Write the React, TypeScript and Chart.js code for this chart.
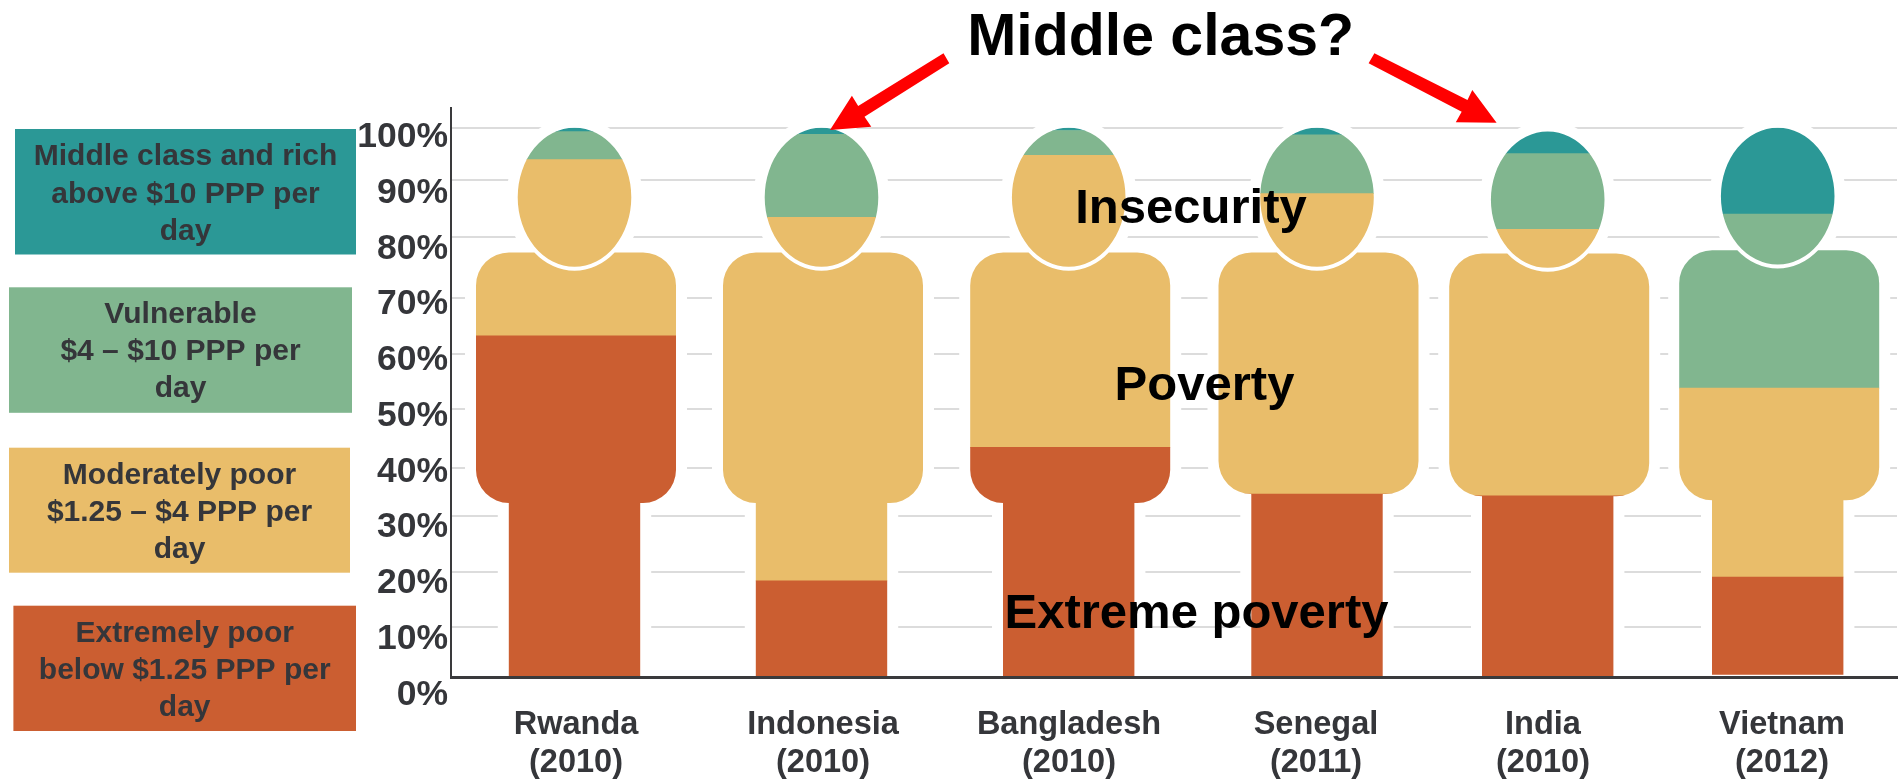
import React, { useEffect, useRef } from "react";
import { Chart, registerables } from "chart.js";

Chart.register(...registerables);

// ---------- data ----------
const countries = ["Rwanda", "Indonesia", "Bangladesh", "Senegal", "India", "Vietnam"];
const years = ["(2010)", "(2010)", "(2010)", "(2011)", "(2010)", "(2012)"];
const extremelyPoor = [62.1, 17.5, 41.8, 33.3, 33.0, 18.2];
const moderatelyPoor = [32.1, 66.2, 53.2, 54.7, 48.5, 34.4];
const vulnerable = [5.1, 15.1, 4.5, 10.7, 13.8, 31.7];
const middleClass = [0.7, 1.2, 0.5, 1.3, 4.7, 15.7];
const yTickValues = [0, 10, 20, 30, 40, 50, 60, 70, 80, 90, 100];
const gridLevels = [9.1, 19.2, 29.3, 38, 48.8, 58.8, 69, 80.2, 90.4, 100];

const legendEntries = [
  ["Middle class and rich", "above $10 PPP per", "day"],
  ["Vulnerable", "$4 \u2013 $10 PPP per", "day"],
  ["Moderately poor", "$1.25 \u2013 $4 PPP per", "day"],
  ["Extremely poor", "below $1.25 PPP per", "day"],
];

// ---------- styles & layout ----------
const TEAL = "#2b9896";
const GREEN = "#81b68f";
const YELLOW = "#e9bd6a";
const ORANGE = "#cb5e31";
const INK = "#35363a";
const FONT = "'Liberation Sans', Arial, sans-serif";

const barCenters = [123.5, 370.5, 617.7, 866, 1096.7, 1326.7];
const labelCenters = [125, 372, 618, 865, 1092, 1331];

// person silhouettes, heights in axis percent
const heads = [
  [100, 74.7],
  [100, 74.7],
  [100, 74.7],
  [100, 74.7],
  [99.3, 74.5],
  [100, 75.1],
];
const torsos = [
  [77.3, 31.7],
  [77.3, 31.7],
  [77.3, 31.7],
  [77.3, 33.3],
  [77.1, 32.9],
  [77.7, 32.2],
];
const feet = [0, 0, 0, 0, 0, 0.4];
const BODY_HALF = 100;
const BODY_SHIFT = 1.5;
const LEG_HALF = 65.7;
const HEAD_RX = 56.8;
const CORNER = 33;
const NECK_GAP = 4;
const HALO = 11;

const legendBoxes = [
  { x: 15, y: 129, w: 341, h: 125.5, c: TEAL, lines: [156.7, 194.3, 231.7] },
  { x: 9, y: 287.3, w: 343, h: 125.5, c: GREEN, lines: [314.3, 351.7, 389] },
  { x: 9, y: 447.7, w: 341, h: 125, c: YELLOW, lines: [475.3, 512.5, 550] },
  { x: 13.4, y: 605.7, w: 342.6, h: 125.3, c: ORANGE, lines: [633.3, 671, 708] },
];

const arrows = [
  [[943.5, 53.3], [858.2, 106], [851.9, 95.7], [830, 130], [871.3, 126.7], [864.5, 116.7], [949.3, 63.3]],
  [[1374.4, 53.3], [1467.5, 100], [1472.3, 90], [1496.6, 122.7], [1455.8, 122.3], [1461.7, 111.7], [1368.6, 63.3]],
];

const callouts = [
  { text: "Middle class?", x: 1160.6, y: 55, size: 59 },
  { text: "Insecurity", x: 1191, y: 223, size: 49 },
  { text: "Poverty", x: 1204.5, y: 400, size: 49 },
  { text: "Extreme poverty", x: 1196.5, y: 627.5, size: 49 },
];

function tracePerson(ctx: CanvasRenderingContext2D, chart: any, i: number) {
  const X = chart.scales.x;
  const Y = chart.scales.y;
  const cx = X.getPixelForValue(barCenters[i]);
  const bx = cx + BODY_SHIFT;
  const [headTop, headBottom] = heads[i];
  const [torsoTop, torsoBottom] = torsos[i];
  const hT = Y.getPixelForValue(headTop);
  const hB = Y.getPixelForValue(headBottom);
  const bT = Y.getPixelForValue(torsoTop);
  const bB = Y.getPixelForValue(torsoBottom);
  const fB = Y.getPixelForValue(feet[i]);
  const cy = (hT + hB) / 2;
  const ry = (hB - hT) / 2;
  const nrx = HEAD_RX + NECK_GAP;
  const nry = ry + NECK_GAP;
  const a = Math.asin((bT - cy) / nry);
  const l = bx - BODY_HALF;
  const r = bx + BODY_HALF;

  ctx.moveTo(l + CORNER, bT);
  ctx.lineTo(cx + nrx * Math.cos(Math.PI - a), bT);
  ctx.ellipse(cx, cy, nrx, nry, 0, Math.PI - a, a, true);
  ctx.lineTo(r - CORNER, bT);
  ctx.arcTo(r, bT, r, bT + CORNER, CORNER);
  ctx.lineTo(r, bB - CORNER);
  ctx.arcTo(r, bB, r - CORNER, bB, CORNER);
  ctx.lineTo(cx + LEG_HALF, bB);
  ctx.lineTo(cx + LEG_HALF, fB);
  ctx.lineTo(cx - LEG_HALF, fB);
  ctx.lineTo(cx - LEG_HALF, bB);
  ctx.lineTo(l + CORNER, bB);
  ctx.arcTo(l, bB, l, bB - CORNER, CORNER);
  ctx.lineTo(l, bT + CORNER);
  ctx.arcTo(l, bT, l + CORNER, bT, CORNER);
  ctx.closePath();

  ctx.moveTo(cx + HEAD_RX, cy);
  ctx.ellipse(cx, cy, HEAD_RX, ry, 0, 0, Math.PI * 2);
  ctx.closePath();
}

const personPlugin = {
  id: "personPlugin",
  beforeDatasetsDraw(chart: any) {
    const { ctx, chartArea } = chart;
    // white halo that interrupts the gridlines around each figure
    ctx.save();
    ctx.beginPath();
    ctx.rect(chartArea.left, chartArea.top, chartArea.width, chartArea.height);
    ctx.clip();
    ctx.fillStyle = "#ffffff";
    ctx.strokeStyle = "#ffffff";
    ctx.lineWidth = HALO * 2;
    ctx.lineJoin = "round";
    ctx.beginPath();
    countries.forEach((_, i) => tracePerson(ctx, chart, i));
    ctx.stroke();
    ctx.fill();
    ctx.restore();
    // bars show through the silhouettes only
    ctx.save();
    ctx.beginPath();
    countries.forEach((_, i) => tracePerson(ctx, chart, i));
    ctx.clip();
  },
  afterDatasetsDraw(chart: any) {
    chart.ctx.restore();
  },
  afterDraw(chart: any) {
    const { ctx } = chart;
    ctx.save();
    // legend panels
    legendBoxes.forEach((b, i) => {
      ctx.fillStyle = b.c;
      ctx.fillRect(b.x, b.y, b.w, b.h);
      ctx.fillStyle = INK;
      ctx.font = `bold 30px ${FONT}`;
      ctx.textAlign = "center";
      ctx.textBaseline = "middle";
      legendEntries[i].forEach((t, j) => ctx.fillText(t, b.x + b.w / 2, b.lines[j]));
    });
    // arrows
    ctx.fillStyle = "#ff0000";
    arrows.forEach((pts) => {
      ctx.beginPath();
      pts.forEach(([x, y], k) => (k ? ctx.lineTo(x, y) : ctx.moveTo(x, y)));
      ctx.closePath();
      ctx.fill();
    });
    // callouts
    ctx.fillStyle = "#000000";
    ctx.textAlign = "center";
    ctx.textBaseline = "alphabetic";
    callouts.forEach((c) => {
      ctx.font = `bold ${c.size}px ${FONT}`;
      ctx.fillText(c.text, c.x, c.y);
    });
    ctx.restore();
  },
};

const toPoints = (values: number[]) => values.map((y, i) => ({ x: barCenters[i], y }));

export default function App() {
  const ref = useRef<HTMLCanvasElement | null>(null);
  useEffect(() => {
    if (!ref.current) return;
    const bar = { barThickness: 214, borderWidth: 0 };
    const chart = new Chart(ref.current, {
      type: "bar",
      data: {
        datasets: [
          { label: "Extremely poor", data: toPoints(extremelyPoor), backgroundColor: ORANGE, ...bar },
          { label: "Moderately poor", data: toPoints(moderatelyPoor), backgroundColor: YELLOW, ...bar },
          { label: "Vulnerable", data: toPoints(vulnerable), backgroundColor: GREEN, ...bar },
          { label: "Middle class and rich", data: toPoints(middleClass), backgroundColor: TEAL, ...bar },
        ],
      } as any,
      plugins: [personPlugin],
      options: {
        responsive: false,
        animation: false,
        layout: { padding: { top: 108, right: 1, left: 0, bottom: 0 } },
        plugins: { legend: { display: false }, tooltip: { enabled: false }, title: { display: false } },
        scales: {
          x: {
            type: "linear",
            stacked: true,
            offset: false,
            min: 0,
            max: 1446,
            grid: { display: false, drawTicks: false },
            border: { display: true, color: "#3a3a3c", width: 3, z: 1 },
            afterBuildTicks: (s: any) => {
              s.ticks = labelCenters.map((value) => ({ value }));
            },
            afterFit: (s: any) => {
              s.height = 105;
            },
            ticks: {
              autoSkip: false,
              maxRotation: 0,
              minRotation: 0,
              padding: 29,
              color: INK,
              font: { family: FONT, weight: "bold", size: 32.5, lineHeight: 1.18 },
              callback: (v: any) => {
                const i = labelCenters.indexOf(Number(v));
                return i < 0 ? "" : [countries[i], years[i]];
              },
            },
          },
          y: {
            type: "linear",
            position: "left",
            stacked: true,
            min: 0,
            max: 103.6,
            grid: { color: "#dcdcdc", lineWidth: 2, drawTicks: false },
            border: { display: true, color: "#3a3a3c", width: 2 },
            ticks: { display: false },
            afterBuildTicks: (s: any) => {
              s.ticks = gridLevels.map((value) => ({ value }));
            },
            afterFit: (s: any) => {
              s.width = 0;
            },
          },
          yLabels: {
            type: "linear",
            position: "left",
            min: 3.18,
            max: 105.26,
            grid: { display: false, drawTicks: false },
            border: { display: false },
            afterBuildTicks: (s: any) => {
              s.ticks = yTickValues.map((value) => ({ value }));
            },
            afterFit: (s: any) => {
              s.width = 451;
            },
            ticks: {
              autoSkip: false,
              padding: 3,
              color: INK,
              font: { family: FONT, weight: "bold", size: 35.5 },
              callback: (v: any) => `${v}%`,
            },
          },
        },
      } as any,
    });
    return () => chart.destroy();
  }, []);

  return (
    <div style={{ position: "absolute", left: 0, top: 0, width: 1898, height: 782, background: "#fff" }}>
      <canvas ref={ref} width={1898} height={782} style={{ display: "block" }} />
    </div>
  );
}
